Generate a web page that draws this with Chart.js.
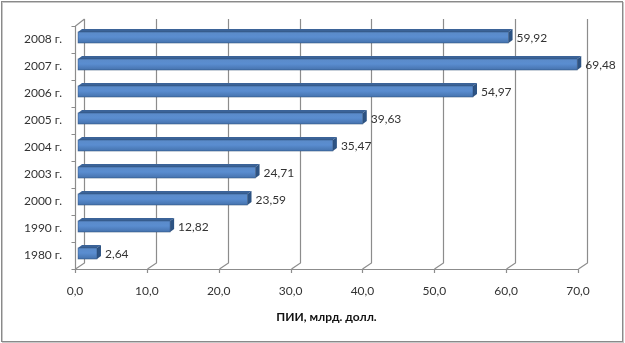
<!DOCTYPE html>
<html>
<head>
<meta charset="utf-8">
<script src="https://cdn.jsdelivr.net/npm/chart.js@4.4.1/dist/chart.umd.min.js"></script>
<style>
  html, body { margin: 0; padding: 0; background: #fff; }
  #wrap { width: 625px; height: 343px; position: relative; }
</style>
</head>
<body>
<div id="wrap"><canvas id="myChart"></canvas></div>
<script>
// data
const years = ['2008 г.', '2007 г.', '2006 г.', '2005 г.', '2004 г.', '2003 г.', '2000 г.', '1990 г.', '1980 г.'];
const fdi = [59.92, 69.48, 54.97, 39.63, 35.47, 24.71, 23.59, 12.82, 2.64];
const xMin = 0, xMax = 70, xStep = 10;
const axisTitle = 'ПИИ, млрд. долл.';

const ctx = document.getElementById('myChart');
const fontFamily = 'Lato, "Open Sans", sans-serif';
const gridColor = '#8c8c8c';
const DX = 9, DY = 6; // depth of the walls

function comma(v, d) {
  return Number(v).toFixed(d).replace('.', ',');
}

// white background + outer frame
const frame = {
  id: 'frame',
  beforeDraw(chart) {
    const c = chart.ctx;
    c.save();
    c.fillStyle = '#fff';
    c.fillRect(0, 0, chart.width, chart.height);
    c.strokeStyle = '#c8c8c8';
    c.lineWidth = 1;
    c.strokeRect(2.5, 2.5, 621, 340);
    c.strokeStyle = '#8a8a8a';
    c.strokeRect(1.5, 1.5, 621, 340);
    c.restore();
  }
};

// 3d walls: back gridlines, floor, left wall
const walls = {
  id: 'walls',
  beforeDatasetsDraw(chart) {
    const c = chart.ctx, a = chart.chartArea;
    const xs = chart.scales.x, ys = chart.scales.y;
    const backTop = a.top - 7;
    c.save();
    c.strokeStyle = gridColor;
    c.lineWidth = 1.2;
    c.beginPath();
    for (let v = xMin; v <= xMax; v += xStep) {
      const px = Math.round(xs.getPixelForValue(v)) + 0.5;
      c.moveTo(px + DX, backTop);
      c.lineTo(px + DX, a.bottom - DY);
      c.lineTo(px, a.bottom);
      c.moveTo(px, a.bottom);
      c.lineTo(px, a.bottom + 4);
    }
    // floor
    c.moveTo(a.left, a.bottom + 0.5);
    c.lineTo(xs.getPixelForValue(xMax) + 0.5, a.bottom + 0.5);
    // left wall
    const lx = Math.round(a.left) + 0.5;
    c.moveTo(lx, a.bottom);
    c.lineTo(lx, a.top);
    c.lineTo(lx + DX, backTop);
    const n = years.length;
    const step = (a.bottom - a.top) / n;
    for (let i = 0; i <= n; i++) {
      const y = Math.round(a.top + i * step) + 0.5;
      c.moveTo(lx - 4, y);
      c.lineTo(lx, y);
    }
    c.stroke();
    c.restore();
  }
};

// 3d bars + value labels
const bars3d = {
  id: 'bars3d',
  afterDatasetsDraw(chart) {
    const c = chart.ctx;
    const meta = chart.getDatasetMeta(0);
    const ox = 3, oy = -2, bx = 4, by = 3;
    c.save();
    meta.data.forEach(function (bar, i) {
      const x0 = bar.base + ox, x1 = bar.x + ox;
      const h = bar.height;
      const y0 = bar.y - h / 2 + oy, y1 = bar.y + h / 2 + oy;
      // front face
      const g = c.createLinearGradient(0, y0, 0, y1);
      g.addColorStop(0, '#5b8bc9');
      g.addColorStop(0.45, '#5a8dd0');
      g.addColorStop(1, '#4572ad');
      c.fillStyle = g;
      c.fillRect(x0, y0, x1 - x0, y1 - y0);
      // top face
      c.fillStyle = '#3b6398';
      c.beginPath();
      c.moveTo(x0, y0);
      c.lineTo(x0 + bx, y0 - by);
      c.lineTo(x1 + bx, y0 - by);
      c.lineTo(x1, y0);
      c.closePath();
      c.fill();
      // right face
      c.fillStyle = '#2d5383';
      c.beginPath();
      c.moveTo(x1, y0);
      c.lineTo(x1 + bx, y0 - by);
      c.lineTo(x1 + bx, y1 - by);
      c.lineTo(x1, y1);
      c.closePath();
      c.fill();
      // outline
      c.strokeStyle = 'rgba(40,70,110,0.6)';
      c.lineWidth = 0.7;
      c.strokeRect(x0, y0, x1 - x0, y1 - y0);
      // label
      c.fillStyle = '#333';
      c.font = '12px ' + fontFamily;
      c.textAlign = 'left';
      c.textBaseline = 'middle';
      c.fillText(comma(fdi[i], 2), x1 + bx + 4, bar.y + oy + 1);
    });
    c.restore();
  }
};

new Chart(ctx, {
  type: 'bar',
  data: {
    labels: years,
    datasets: [{
      label: axisTitle,
      data: fdi,
      backgroundColor: 'rgba(0,0,0,0)',
      borderWidth: 0,
      categoryPercentage: 1,
      barPercentage: 0.41
    }]
  },
  options: {
    indexAxis: 'y',
    responsive: true,
    maintainAspectRatio: false,
    animation: false,
    layout: { padding: { top: 26, right: 47, left: 0, bottom: 0 } },
    plugins: {
      legend: { display: false },
      tooltip: { enabled: false }
    },
    scales: {
      x: {
        min: xMin,
        max: xMax,
        grid: { display: false, drawTicks: false },
        border: { display: false },
        ticks: {
          stepSize: xStep,
          padding: 15,
          color: '#333',
          font: { family: fontFamily, size: 12 },
          callback: function (v) { return comma(v, 1); }
        },
        title: {
          display: true,
          text: axisTitle,
          color: '#111',
          font: { family: fontFamily, size: 12, weight: 'bold' },
          padding: { top: 0, bottom: 19 }
        },
        afterFit: function (s) { s.height = 74; }
      },
      y: {
        grid: { display: false, drawTicks: false },
        border: { display: false },
        ticks: {
          padding: 13,
          color: '#333',
          font: { family: fontFamily, size: 12 }
        },
        afterFit: function (s) { s.width = 75; }
      }
    }
  },
  plugins: [frame, walls, bars3d]
});
</script>
</body>
</html>
